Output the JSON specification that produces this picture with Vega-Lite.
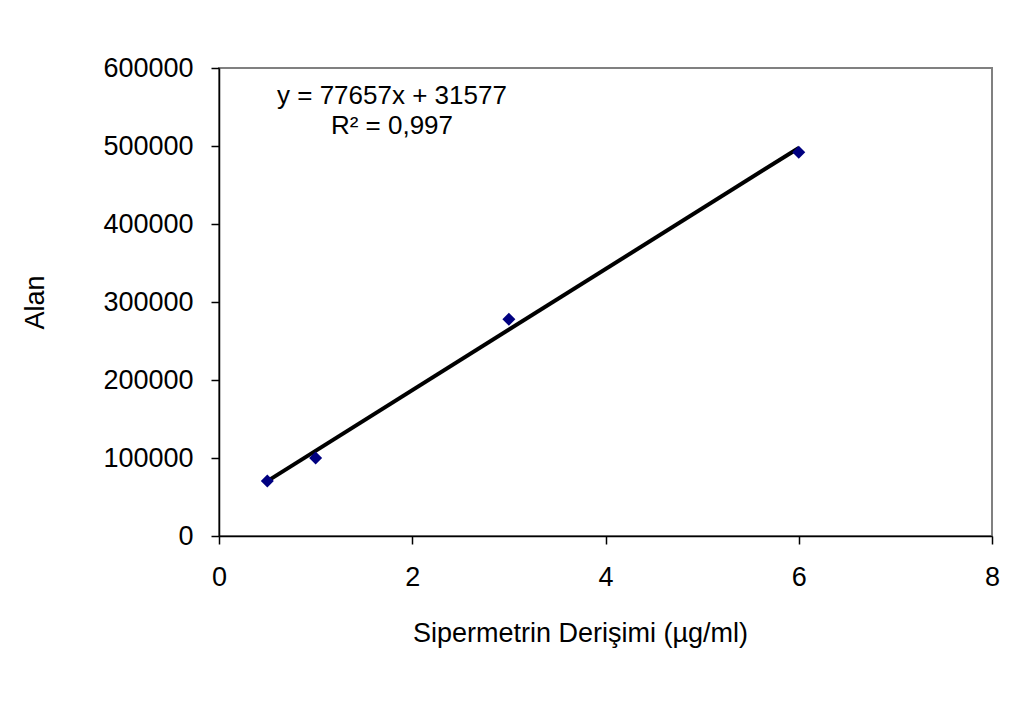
{
  "$schema": "https://vega.github.io/schema/vega-lite/v6.json",
  "width": 773,
  "height": 468,
  "autosize": {"type": "none"},
  "padding": {"left": 219, "top": 68, "right": 38, "bottom": 175},
  "background": "white",
  "config": {
    "font": "Liberation Sans",
    "view": {"stroke": "#808080", "strokeWidth": 2},
    "axis": {"grid": false, "labelFlush": false, "labelOverlap": false, "domainColor": "#000000", "domainWidth": 1.5, "tickColor": "#000000", "tickWidth": 1.5, "tickSize": 8, "labelColor": "#000000", "titleColor": "#000000", "labelFont": "Liberation Sans", "titleFont": "Liberation Sans", "labelFontSize": 27, "titleFontSize": 27, "titleFontWeight": "normal"}
  },
  "datasets": {
    "points": [
      {"conc": 0.5, "alan": 70500},
      {"conc": 1, "alan": 100000},
      {"conc": 3, "alan": 278000},
      {"conc": 6, "alan": 492000}
    ],
    "trend": [
      {"conc": 0.5, "alan": 70406},
      {"conc": 6, "alan": 497519}
    ],
    "labels": [
      {"conc": 1.79, "alan": 564100, "label": "y = 77657x + 31577"},
      {"conc": 1.79, "alan": 525600, "label": "R² = 0,997"}
    ]
  },
  "layer": [
    {
      "data": {"name": "trend"},
      "mark": {"type": "line", "color": "#000000", "strokeWidth": 4},
      "encoding": {
        "x": {"field": "conc", "type": "quantitative", "scale": {"domain": [0, 8], "nice": false, "zero": false},
          "axis": {"title": "Sipermetrin Derişimi (µg/ml)", "values": [0, 2, 4, 6, 8], "format": "d", "labelPadding": 20, "labelAngle": 0, "labelFlush": false, "titleX": 361, "titleY": 97, "titleAnchor": null, "titleAlign": "center", "titleBaseline": "middle"}},
        "y": {"field": "alan", "type": "quantitative", "scale": {"domain": [0, 600000], "nice": false},
          "axis": {"title": "Alan", "values": [0, 100000, 200000, 300000, 400000, 500000, 600000], "format": "d", "labelPadding": 18, "labelFlush": false, "titleX": -184, "titleY": 234, "titleAlign": "center", "titleBaseline": "middle", "titleAngle": -90}}
      }
    },
    {
      "data": {"name": "points"},
      "mark": {"type": "point", "shape": "diamond", "filled": true, "color": "#000080", "size": 170, "opacity": 1},
      "encoding": {
        "x": {"field": "conc", "type": "quantitative"},
        "y": {"field": "alan", "type": "quantitative"}
      }
    },
    {
      "data": {"name": "labels"},
      "mark": {"type": "text", "fontSize": 26, "align": "center", "baseline": "middle", "color": "#000000", "font": "Liberation Sans"},
      "encoding": {
        "x": {"field": "conc", "type": "quantitative"},
        "y": {"field": "alan", "type": "quantitative"},
        "text": {"field": "label", "type": "nominal"}
      }
    }
  ]
}
